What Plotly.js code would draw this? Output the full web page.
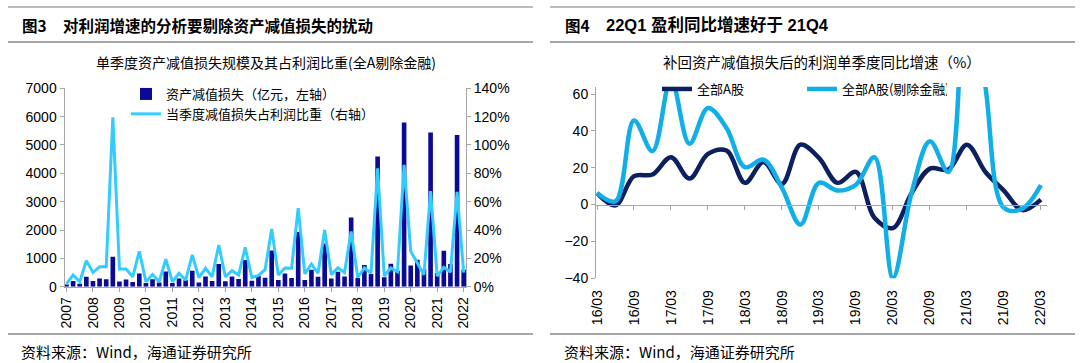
<!DOCTYPE html>
<html>
<head>
<meta charset="utf-8">
<script src="https://cdn.plot.ly/plotly-3.0.1.min.js"></script>
<style>
html,body{margin:0;padding:0;background:#fff;}
#chart{width:1080px;height:363px;}
</style>
</head>
<body>
<div id="chart"></div>
<script>
// ---------- Left chart data (quarters 2007Q1 - 2022Q1) ----------
const leftQuarters = [
  '2007Q1','2007Q2','2007Q3','2007Q4','2008Q1','2008Q2','2008Q3','2008Q4',
  '2009Q1','2009Q2','2009Q3','2009Q4','2010Q1','2010Q2','2010Q3','2010Q4',
  '2011Q1','2011Q2','2011Q3','2011Q4','2012Q1','2012Q2','2012Q3','2012Q4',
  '2013Q1','2013Q2','2013Q3','2013Q4','2014Q1','2014Q2','2014Q3','2014Q4',
  '2015Q1','2015Q2','2015Q3','2015Q4','2016Q1','2016Q2','2016Q3','2016Q4',
  '2017Q1','2017Q2','2017Q3','2017Q4','2018Q1','2018Q2','2018Q3','2018Q4',
  '2019Q1','2019Q2','2019Q3','2019Q4','2020Q1','2020Q2','2020Q3','2020Q4',
  '2021Q1','2021Q2','2021Q3','2021Q4','2022Q1'
];
const impairmentLoss = [ // 资产减值损失（亿元）
  80, 200, 100, 350, 200, 290, 260, 1060,
  180, 250, 165, 470, 130, 260, 150, 540,
  130, 290, 230, 560, 150, 360, 200, 800,
  190, 360, 270, 940, 210, 390, 320, 1280,
  235, 470, 310, 1930, 240, 600, 350, 1520,
  290, 530, 360, 2440, 310, 770, 450, 4590,
  330, 810, 560, 5790, 750, 950, 620, 5440,
  480, 1270, 800, 5350, 600
];
const lossShare = [ // 当季度减值损失占利润比重（%）
  2, 8.2, 3.5, 18.4, 10, 14, 14, 119.5,
  12.5, 12.5, 7, 25, 3.5, 8.7, 3.5, 19.5,
  3.5, 9.4, 4.7, 22.4, 6.4, 13, 7, 29.4,
  7, 11.3, 8.2, 27.8, 6.4, 8, 12, 40.7,
  8.2, 13.2, 13, 55.5, 9, 16, 9.5, 40,
  8.5, 13.4, 10, 39, 6.5, 13.2, 9.7, 83.5,
  7.5, 13.2, 10.6, 86, 25, 16.8, 8.5, 67.5,
  7.5, 13.6, 10.3, 67, 10
];
const yearTickCats = ['2007Q1','2008Q1','2009Q1','2010Q1','2011Q1','2012Q1','2013Q1','2014Q1',
  '2015Q1','2016Q1','2017Q1','2018Q1','2019Q1','2020Q1','2021Q1','2022Q1'];
const yearTickText = ['2007','2008','2009','2010','2011','2012','2013','2014',
  '2015','2016','2017','2018','2019','2020','2021','2022'];

// ---------- Right chart data (16/03 - 22/03) ----------
const rightQuarters = ['16/03','16/06','16/09','16/12','17/03','17/06','17/09','17/12',
  '18/03','18/06','18/09','18/12','19/03','19/06','19/09','19/12',
  '20/03','20/06','20/09','20/12','21/03','21/06','21/09','21/12','22/03'];
const allA = [6.3, -0.4, 15.4, 16.3, 25.7, 14.1, 27.5, 29.3,
  11.8, 23.1, 11.2, 32.5, 25.3, 11.8, 17.7, -7.2,
  -12.7, 6, 19.5, 19, 32.5, 17.7, 7.6, -3, 2.7];
const allAexFin = [6.3, 1.8, 45.6, 29, 68, 33, 52.4, 41.6,
  20.3, 24.4, 9, -10.8, 11.8, 7.6, 10.8, 25.7,
  -39.8, 6, 34.4, 17.7, 130, 64, -1.8, -2.2, 10.5];
const rightTickCats = rightQuarters.filter((q, i) => i % 2 === 0);
const rightTickIdx = rightQuarters.map((q, i) => i).filter(i => i % 2 === 0);

const W = 1080, H = 363;
const px = v => v / W;
const py = v => 1 - v / H;

const NUM = 'Liberation Sans, Arial, Noto Sans CJK SC, sans-serif';
const CJK = 'Noto Sans CJK SC, Liberation Sans, sans-serif';
const GRAY = '#A6A6A6';

const traces = [
  {
    type: 'bar', x: leftQuarters, y: impairmentLoss, xaxis: 'x', yaxis: 'y',
    name: '资产减值损失（亿元，左轴）', marker: {color: '#0A0A96'}, width: 0.7,
    legend: 'legend', hoverinfo: 'skip'
  },
  {
    type: 'scatter', mode: 'lines', x: leftQuarters, y: lossShare, xaxis: 'x', yaxis: 'y2',
    name: '当季度减值损失占利润比重（右轴）', line: {color: '#33CCFF', width: 3},
    legend: 'legend', hoverinfo: 'skip'
  },
  {
    type: 'scatter', mode: 'lines', x: rightQuarters, y: allA, xaxis: 'x2', yaxis: 'y3',
    name: '全部A股', line: {color: '#0C1F5E', width: 4.5, shape: 'spline', smoothing: 1},
    legend: 'legend2', hoverinfo: 'skip'
  },
  {
    type: 'scatter', mode: 'lines', x: rightQuarters, y: allAexFin, xaxis: 'x2', yaxis: 'y3',
    name: '全部A股(剔除金融)', line: {color: '#12AEE8', width: 4.5, shape: 'spline', smoothing: 1},
    legend: 'legend2', hoverinfo: 'skip'
  },
  {
    type: 'scatter', mode: 'lines', x: rightTickIdx, y: rightTickIdx.map(() => null),
    xaxis: 'x3', yaxis: 'y3', showlegend: false, hoverinfo: 'skip'
  }
];

const axisCommon = {
  showgrid: false, zeroline: false, showline: true, linecolor: GRAY, linewidth: 1,
  ticks: 'outside', ticklen: 4, tickcolor: GRAY, tickfont: {family: NUM, size: 14, color: '#000'}
};

const layout = {
  width: W, height: H,
  margin: {l: 0, r: 0, t: 0, b: 0},
  paper_bgcolor: '#fff', plot_bgcolor: 'rgba(0,0,0,0)',
  showlegend: true,
  xaxis: Object.assign({}, axisCommon, {
    domain: [px(64.5), px(466)], anchor: 'y', type: 'category',
    range: [-0.3, 60.35], tickmode: 'array', tickvals: yearTickCats, ticktext: yearTickText,
    tickangle: -90
  }),
  yaxis: Object.assign({}, axisCommon, {
    domain: [py(286.7), py(88.3)], anchor: 'x', range: [0, 7000], dtick: 1000
  }),
  yaxis2: Object.assign({}, axisCommon, {
    overlaying: 'y', anchor: 'x', side: 'right', range: [0, 140], dtick: 20, ticksuffix: '%'
  }),
  xaxis2: Object.assign({}, axisCommon, {
    domain: [px(596), px(1047)], anchor: 'y3', type: 'category',
    range: [-0.054, 24.33], tickmode: 'array', tickvals: rightTickCats,
    tickangle: -90, showline: false, ticks: '', ticklabelstandoff: 8
  }),
  yaxis3: Object.assign({}, axisCommon, {
    domain: [py(278.3), py(87)], anchor: 'x2', range: [-40, 63.8],
    tickmode: 'array', tickvals: [-40, -20, 0, 20, 40, 60]
  }),
  xaxis3: Object.assign({}, axisCommon, {
    overlaying: 'x2', anchor: 'free', position: py(204.6), type: 'linear',
    range: [-0.054, 24.33], tickmode: 'array', tickvals: rightTickIdx, showticklabels: false
  }),
  legend: {
    x: px(126), y: py(79), xanchor: 'left', yanchor: 'top',
    bgcolor: 'rgba(0,0,0,0)', font: {family: CJK, size: 13, color: '#000'},
    tracegroupgap: 0, itemwidth: 30, traceorder: 'normal'
  },
  legend2: {
    orientation: 'h', x: px(657), y: py(74), xanchor: 'left', yanchor: 'top',
    bgcolor: 'rgba(0,0,0,0)', font: {family: CJK, size: 13, color: '#000'},
    entrywidth: 100, entrywidthmode: 'pixels', itemwidth: 30
  },
  shapes: [
    {type: 'line', xref: 'paper', yref: 'paper', x0: px(8), x1: px(533), y0: py(7), y1: py(7), line: {color: GRAY, width: 1.5}},
    {type: 'line', xref: 'paper', yref: 'paper', x0: px(8), x1: px(533), y0: py(42), y1: py(42), line: {color: GRAY, width: 2}},
    {type: 'line', xref: 'paper', yref: 'paper', x0: px(8), x1: px(533), y0: py(334), y1: py(334), line: {color: GRAY, width: 2}},
    {type: 'line', xref: 'paper', yref: 'paper', x0: px(550), x1: px(1075), y0: py(7), y1: py(7), line: {color: GRAY, width: 1.5}},
    {type: 'line', xref: 'paper', yref: 'paper', x0: px(550), x1: px(1075), y0: py(42), y1: py(42), line: {color: GRAY, width: 2}},
    {type: 'line', xref: 'paper', yref: 'paper', x0: px(550), x1: px(1075), y0: py(334), y1: py(334), line: {color: GRAY, width: 2}}
  ],
  annotations: [
    {text: '<b>图3</b>', x: px(20), y: py(25), xref: 'paper', yref: 'paper', xanchor: 'left', yanchor: 'middle', showarrow: false, font: {family: CJK, size: 15.5, color: '#000'}},
    {text: '<b>对利润增速的分析要剔除资产减值损失的扰动</b>', x: px(61), y: py(25), xref: 'paper', yref: 'paper', xanchor: 'left', yanchor: 'middle', showarrow: false, font: {family: CJK, size: 15.5, color: '#000'}},
    {text: '单季度资产减值损失规模及其占利润比重(全A剔除金融)', x: px(266), y: py(62), xref: 'paper', yref: 'paper', xanchor: 'center', yanchor: 'middle', showarrow: false, font: {family: CJK, size: 14, color: '#000'}},
    {text: '<b>图4</b>', x: px(563), y: py(25), xref: 'paper', yref: 'paper', xanchor: 'left', yanchor: 'middle', showarrow: false, font: {family: CJK, size: 15.5, color: '#000'}},
    {text: '<b>22Q1 盈利同比增速好于 21Q4</b>', x: px(604), y: py(25), xref: 'paper', yref: 'paper', xanchor: 'left', yanchor: 'middle', showarrow: false, font: {family: NUM, size: 16.5, color: '#000'}},
    {text: '补回资产减值损失后的利润单季度同比增速（%）', x: px(822), y: py(62), xref: 'paper', yref: 'paper', xanchor: 'center', yanchor: 'middle', showarrow: false, font: {family: CJK, size: 14.5, color: '#000'}},
    {text: '资料来源：Wind，海通证券研究所', x: px(19), y: py(351), xref: 'paper', yref: 'paper', xanchor: 'left', yanchor: 'middle', showarrow: false, font: {family: CJK, size: 15, color: '#000'}},
    {text: '资料来源：Wind，海通证券研究所', x: px(562), y: py(351), xref: 'paper', yref: 'paper', xanchor: 'left', yanchor: 'middle', showarrow: false, font: {family: CJK, size: 15, color: '#000'}}
  ]
};

Plotly.newPlot('chart', traces, layout, {displayModeBar: false, staticPlot: true});
</script>
</body>
</html>
